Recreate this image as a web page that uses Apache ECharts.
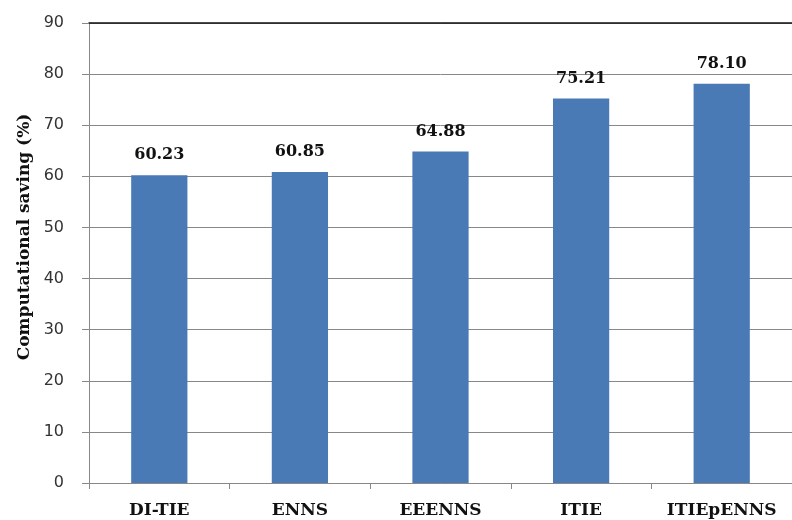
<!DOCTYPE html>
<html><head><meta charset="utf-8">
<script src="https://cdn.jsdelivr.net/npm/echarts@6/dist/echarts.min.js"></script>
<style>html,body{margin:0;padding:0;background:#fff}#c{width:792px;height:520px}</style>
</head><body><div id="c"></div>
<script>
const categories = ["DI-TIE", "ENNS", "EEENNS", "ITIE", "ITIEpENNS"];
const savings = [60.23, 60.85, 64.88, 75.21, 78.10];
const yTicks = [0, 10, 20, 30, 40, 50, 60, 70, 80, 90];

const chart = echarts.init(document.getElementById('c'));
chart.setOption({
  animation: false,
  grid: {left: 89, top: 23, width: 711, height: 460},
  xAxis: [{
    type: 'category', data: categories, position: 'bottom',
    axisLine: {lineStyle: {color: '#888', width: 1}},
    axisTick: {show: true, interval: 0, length: 6, lineStyle: {color: '#888'}},
    axisLabel: {interval: 0, hideOverlap: false, margin: 19, color: '#111', fontFamily: 'DejaVu Serif', fontWeight: 'bold', fontSize: 17}
  }, {
    type: 'category', data: categories, position: 'top',
    axisLine: {show: true, lineStyle: {color: '#111', width: 1.5}},
    axisTick: {show: false}, axisLabel: {show: false}
  }],
  yAxis: {
    type: 'value', min: yTicks[0], max: yTicks[yTicks.length - 1], interval: 10,
    name: 'Computational saving (%)', nameLocation: 'middle', nameGap: 56, nameRotate: 90,
    nameTextStyle: {fontFamily: 'DejaVu Serif', fontWeight: 'bold', fontSize: 17, color: '#111', padding: [0, 0, 0, 32]},
    axisLine: {show: true, lineStyle: {color: '#888'}},
    axisTick: {show: true, length: 7, lineStyle: {color: '#888'}},
    axisLabel: {margin: 25, color: '#333', fontFamily: 'DejaVu Sans', fontSize: 16},
    splitLine: {lineStyle: {color: '#888', width: 1}}
  },
  series: [{
    type: 'bar', data: savings, barWidth: '40%', xAxisIndex: 0,
    itemStyle: {color: '#4a7ab5'},
    label: {show: true, position: 'top', distance: 12, formatter: p => p.value.toFixed(2),
      fontFamily: 'DejaVu Serif', fontWeight: 'bold', fontSize: 16, color: '#111'}
  }]
});
</script></body></html>
